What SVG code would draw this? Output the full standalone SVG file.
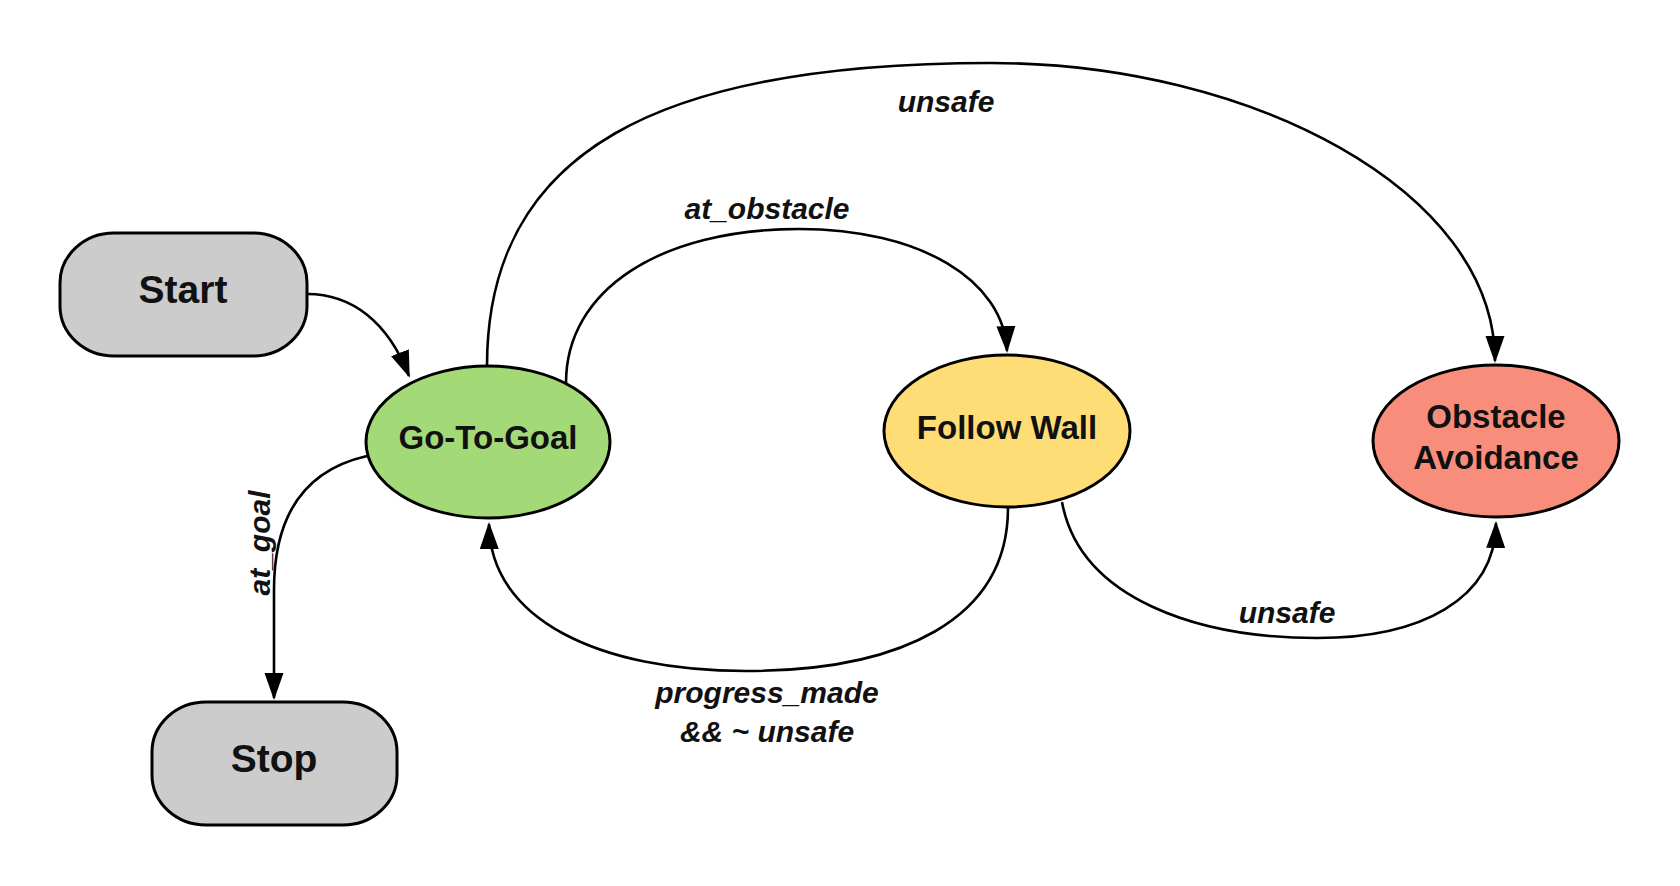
<svg xmlns="http://www.w3.org/2000/svg" width="1680" height="886" viewBox="0 0 1680 886">
<defs>
<style>
.node{stroke:#000;stroke-width:3}
.term{fill:#cccccc}
.ntext{font-family:"Liberation Sans",Arial,sans-serif;font-weight:bold;fill:#111;text-anchor:middle}
.edge{fill:none;stroke:#000;stroke-width:2.6;marker-end:url(#arr)}
.elabel{font-family:"Liberation Sans",Arial,sans-serif;font-weight:bold;font-style:italic;font-size:30px;fill:#111;text-anchor:middle}
</style>
<marker id="arr" markerUnits="userSpaceOnUse" markerWidth="30" markerHeight="20" viewBox="0 0 30 20" refX="25" refY="10" orient="auto">
<path d="M0,0.5 L27,10 L0,19.5 z" fill="#000"/>
</marker>
</defs>
<rect width="1680" height="886" fill="#fff"/>
<g id="connectors">
<path class="edge" d="M307,294 C352,294 388,322 409,376"/>
<path class="edge" d="M367,456 C305,470 274,515 274,590 L274,698"/>
<path class="edge" d="M487,366 C487,150 660,63 991,63 C1250,63 1495,190 1495,361"/>
<path class="edge" d="M566,383 C566,290 660,229 799,229 C920,229 1004,280 1007,351"/>
<path class="edge" d="M1008,508 C1008,620 900,671 746,671 C600,671 490,620 489,524"/>
<path class="edge" d="M1062,502 C1080,600 1200,638 1317,638 C1420,638 1495,600 1496,523"/>
<text class="elabel" x="946" y="112">unsafe</text>
<text class="elabel" x="767" y="219">at_obstacle</text>
<text class="elabel" transform="translate(270,543) rotate(-90)">at_goal</text>
<text class="elabel" x="767" y="703">progress_made</text>
<text class="elabel" x="767" y="742">&amp;&amp; ~ unsafe</text>
<text class="elabel" x="1287" y="623">unsafe</text>
</g>
<g id="start">
<rect class="node term" x="60" y="233" width="247" height="123" rx="54" ry="50"/>
<text class="ntext" x="183" y="303" font-size="39">Start</text>
</g>
<g id="stop">
<rect class="node term" x="152" y="702" width="245" height="123" rx="54" ry="50"/>
<text class="ntext" x="274" y="772" font-size="39">Stop</text>
</g>
<g id="go-to-goal">
<ellipse class="node" cx="488" cy="442" rx="122" ry="76" fill="#a3d977"/>
<text class="ntext" x="488" y="449" font-size="33">Go-To-Goal</text>
</g>
<g id="follow-wall">
<ellipse class="node" cx="1007" cy="431" rx="123" ry="76" fill="#ffdd76"/>
<text class="ntext" x="1007" y="439" font-size="33">Follow Wall</text>
</g>
<g id="obstacle-avoidance">
<ellipse class="node" cx="1496" cy="441" rx="123" ry="76" fill="#f98d7c"/>
<text class="ntext" x="1496" y="428" font-size="33">Obstacle</text>
<text class="ntext" x="1496" y="469" font-size="33">Avoidance</text>
</g>
</svg>
